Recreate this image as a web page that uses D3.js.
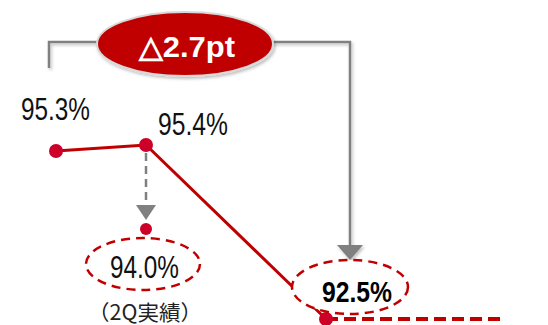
<!DOCTYPE html>
<html><head><meta charset="utf-8">
<script src="https://cdn.jsdelivr.net/npm/d3@7"></script>
<style>html,body{margin:0;padding:0;background:#fff;}svg{display:block;}</style>
</head><body>
<svg id="c" width="548" height="325"></svg>
<script>
const positions = [0, 1, 3];
const values = [95.3, 95.4, 92.5];
const labels = ["95.3%", "95.4%", "92.5%"];
const actualPos = 1;
const actualValue = 94.0;
const actualLabel = "94.0%";
const actualNote = "（2Q実績）";
const forecastEndPos = 4.97;
const diffLabel = "△2.7pt";

const svg = d3.select("#c");
const x = d3.scaleLinear().domain([0, 1]).range([56, 146]);
const y = d3.scaleLinear().domain([92.5, 95.4]).range([319, 145]);
const RED = "#C00000", DOT = "#CC0028", GRAY = "#808080";
const narrow = "'Liberation Sans Narrow','Arial Narrow','Liberation Sans',Arial,sans-serif";

const defs = svg.append("defs");
const f = defs.append("filter").attr("id","sh").attr("x","-20%").attr("y","-20%").attr("width","150%").attr("height","150%");
f.append("feDropShadow").attr("dx",1.5).attr("dy",2).attr("stdDeviation",1.5).attr("flood-color","#000").attr("flood-opacity",0.25);

// dashed forecast continuation
svg.append("line").attr("x1", x(positions[2])).attr("x2", x(forecastEndPos))
  .attr("y1", y(values[2])).attr("y2", y(values[2]))
  .attr("stroke", RED).attr("stroke-width", 4).attr("stroke-dasharray", "12,6");

// gray bracket
const yTop = 42;
const xL = x(positions[0]) - 7, xR = x(positions[2]) + 24;
svg.append("path").attr("filter","url(#sh)")
  .attr("d", `M${xL},68 V${yTop} H${xR} V247`)
  .attr("fill","none").attr("stroke", GRAY).attr("stroke-width", 2.5);
svg.append("path").attr("filter","url(#sh)")
  .attr("d", `M${xR-13},245 L${xR+13},245 L${xR},260 Z`).attr("fill", GRAY);

// dashed gray arrow to actual
const ax = x(actualPos);
svg.append("line").attr("x1", ax).attr("x2", ax).attr("y1", y(values[1]) + 8).attr("y2", 205)
  .attr("stroke", GRAY).attr("stroke-width", 2.5).attr("stroke-dasharray", "8,5");
svg.append("path").attr("d", `M${ax-10},205 L${ax+10},205 L${ax},220 Z`).attr("fill", GRAY);

// main line
const line = d3.line().x((d,i)=>x(positions[i])).y(d=>y(d));
svg.append("path").datum(values).attr("d", line)
  .attr("fill","none").attr("stroke", RED).attr("stroke-width", 3);

// dots
svg.selectAll("circle.pt").data(values).join("circle").attr("class","pt")
  .attr("cx",(d,i)=>x(positions[i])).attr("cy", d=>y(d)).attr("r", 7).attr("fill", DOT);
svg.append("circle").attr("cx", ax).attr("cy", y(actualValue)).attr("r", 6).attr("fill", DOT);

// value labels
svg.append("text").attr("x", 21).attr("y", 120).attr("font-family", narrow).attr("font-size", 31)
  .attr("textLength", 69).attr("lengthAdjust","spacingAndGlyphs").attr("fill","#111").text(labels[0]);
svg.append("text").attr("x", 158).attr("y", 135).attr("font-family", narrow).attr("font-size", 31)
  .attr("textLength", 70).attr("lengthAdjust","spacingAndGlyphs").attr("fill","#111").text(labels[1]);

// actual ellipse + label
svg.append("ellipse").attr("cx", 143).attr("cy", 264).attr("rx", 57).attr("ry", 26)
  .attr("fill","none").attr("stroke", RED).attr("stroke-width", 2.5).attr("stroke-dasharray","9,6");
svg.append("text").attr("x", 110).attr("y", 278).attr("font-family", narrow).attr("font-size", 31)
  .attr("textLength", 69).attr("lengthAdjust","spacingAndGlyphs").attr("fill","#111").text(actualLabel);
svg.append("text").attr("x", 88).attr("y", 320)
  .attr("font-family","'Noto Sans CJK JP',sans-serif").attr("font-size", 21)
  .attr("textLength", 114).attr("lengthAdjust","spacingAndGlyphs")
  .attr("fill","#222").text(actualNote);

// forecast ellipse + label
svg.append("ellipse").attr("cx", 350).attr("cy", 287).attr("rx", 58).attr("ry", 27)
  .attr("fill","#fff").attr("stroke", RED).attr("stroke-width", 2.5).attr("stroke-dasharray","9,6");
svg.append("text").attr("x", 322).attr("y", 302).attr("font-family", narrow).attr("font-size", 30).attr("font-weight","bold")
  .attr("textLength", 70).attr("lengthAdjust","spacingAndGlyphs").attr("fill","#000").text(labels[2]);

// red badge
svg.append("ellipse").attr("cx", 185).attr("cy", 44).attr("rx", 88).attr("ry", 32)
  .attr("fill", "#C00000").attr("stroke","#d8d8d8").attr("stroke-width",2).attr("filter","url(#sh)");
svg.append("text").attr("x", 139).attr("y", 57).attr("font-family", narrow).attr("font-size", 30).attr("font-weight","bold")
  .attr("textLength", 96).attr("lengthAdjust","spacingAndGlyphs").attr("fill","#fff").text(diffLabel);
</script>
</body></html>
